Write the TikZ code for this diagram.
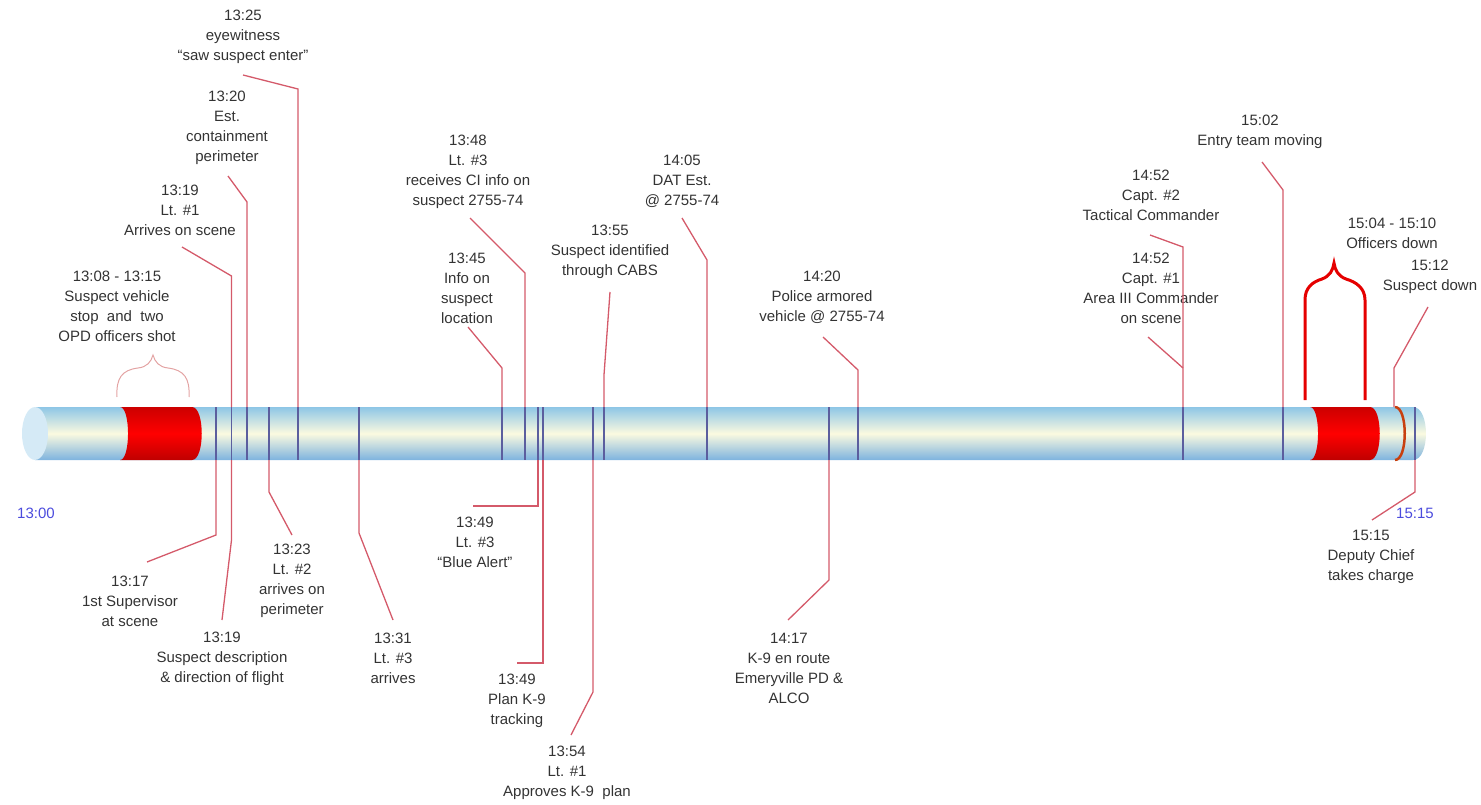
\documentclass[tikz,border=0pt]{standalone}
\usepackage{fontspec}
\setmainfont{Liberation Sans}
\definecolor{cylTop}{HTML}{8EC6E6}
\definecolor{cylMid}{HTML}{FBFAE0}
\definecolor{cylBot}{HTML}{7DB3DF}
\definecolor{capcol}{HTML}{D5EAF6}
\definecolor{connred}{HTML}{D45A6A}
\definecolor{tickcol}{HTML}{5B5E9E}
\definecolor{txtgray}{HTML}{333333}
\definecolor{axblue}{HTML}{4B4BDD}
\definecolor{bracelight}{HTML}{E3A3A3}
\definecolor{ringcol}{HTML}{C8400F}
\tikzset{
  lbl/.style={align=center, inner sep=0pt, text=txtgray, font=\fontsize{15}{20}\selectfont},
  axlbl/.style={inner sep=0pt, text=axblue, font=\fontsize{15}{20}\selectfont},
  conn/.style={draw=connred, line width=1.3pt, line join=miter},
  tickln/.style={draw=tickcol, line width=1.3pt},
  redseg/.style={top color=red!80!black, bottom color=red!75!black, middle color=red, draw=none},
}
\begin{document}
\begin{tikzpicture}[x=1pt,y=-1pt]
\useasboundingbox (0,0) rectangle (1481,805);

% ---- cylinder ----
\path[top color=cylTop, bottom color=cylBot, middle color=cylMid]
  (35,407) -- (1413,407) .. controls (1430.3,407) and (1430.3,460) .. (1413,460) -- (35,460) -- cycle;
\fill[capcol] (35,433.5) ellipse [x radius=13, y radius=26.5];
% red segments
\path[redseg] (120,407) -- (192,407) .. controls (205,407) and (205,460) .. (192,460)
  -- (120,460) .. controls (130.7,460) and (130.7,407) .. (120,407) -- cycle;
\path[redseg] (1310,407) -- (1370,407) .. controls (1383,407) and (1383,460) .. (1370,460)
  -- (1310,460) .. controls (1320.7,460) and (1320.7,407) .. (1310,407) -- cycle;
\draw[ringcol, line width=2.5pt] (1395,407) .. controls (1408,407) and (1408,460) .. (1395,460);

% ---- tick positions on the cylinder ----
\foreach \n/\x in {t1317/216, t1319/231.5, t1320/247, t1323/269, t1325/298, t1331/359,
  t1345/502, t1348/525, t1349a/538, t1349b/543, t1354/593, t1355/604, t1405/707,
  t1417/829, t1420/858, t1452/1183, t1502/1283, t1515/1415}{
  \coordinate (\n u) at (\x,407);
  \coordinate (\n d) at (\x,460);
  \draw[tickln] (\n u) -- (\n d);
}
\coordinate (t1512u) at (1394,407);

% ---- labels ----
\node[lbl] (n1308) at (117,306) {13:08 - 13:15\\Suspect vehicle\\stop\ \ and\ \ two\\OPD officers shot};
\node[lbl] (n1319a) at (180,210) {13:19\\Lt. \#1\\Arrives on scene};
\node[lbl] (n1320) at (227,128) {13:20\\Est.\\containment\\perimeter};
\node[lbl] (n1325) at (243,37) {13:25\\eyewitness\\“saw suspect enter”};
\node[lbl] (n1317) at (130,601) {13:17\\1st Supervisor\\at scene};
\node[lbl] (n1319b) at (222,659) {13:19\\Suspect description\\\& direction of flight};
\node[lbl] (n1323) at (292,581) {13:23\\Lt. \#2\\arrives on\\perimeter};
\node[lbl] (n1331) at (393,658) {13:31\\Lt. \#3\\arrives};
\node[lbl] (n1345) at (467,288) {13:45\\Info on\\suspect\\location};
\node[lbl] (n1348) at (468,172) {13:48\\Lt. \#3\\receives CI info on\\suspect 2755-74};
\node[lbl] (n1349a) at (475,542) {13:49\\Lt. \#3\\“Blue Alert”};
\node[lbl] (n1349b) at (517,701) {13:49\\Plan K-9\\tracking};
\node[lbl] (n1354) at (567,773) {13:54\\Lt. \#1\\Approves K-9\ \ plan};
\node[lbl] (n1355) at (610,252) {13:55\\Suspect identified\\through CABS};
\node[lbl] (n1405) at (682,181) {14:05\\DAT Est.\\@ 2755-74};
\node[lbl] (n1420) at (822,297) {14:20\\Police armored\\vehicle @ 2755-74};
\node[lbl] (n1417) at (789,668) {14:17\\K-9 en route\\Emeryville PD \&\\ALCO};
\node[lbl] (n1452a) at (1151,195) {14:52\\Capt. \#2\\Tactical Commander};
\node[lbl] (n1452b) at (1151,288) {14:52\\Capt. \#1\\Area III Commander\\on scene};
\node[lbl] (n1502) at (1260,132) {15:02\\Entry team moving};
\node[lbl] (n1504) at (1392,233) {15:04 - 15:10\\Officers down};
\node[lbl] (n1512) at (1430,277) {15:12\\Suspect down};
\node[lbl] (n1515) at (1371,557) {15:15\\Deputy Chief\\takes charge};
\node[axlbl] (ax1300) at (36,513) {13:00};
\node[axlbl] (ax1515) at (1415,513) {15:15};

% ---- connector free ends ----
\coordinate (e1319a) at (182,247);
\coordinate (e1320) at (228,176);
\coordinate (e1325) at (243,75);
\coordinate (e1317) at (147,562);
\coordinate (e1319b) at (222,620);
\coordinate (e1323) at (292,535);
\coordinate (e1331) at (393,620);
\coordinate (e1345) at (468,327);
\coordinate (e1348) at (470,218);
\coordinate (e1349a) at (473,506);
\coordinate (e1349b) at (517,663);
\coordinate (e1354) at (571,735);
\coordinate (e1355) at (610,292);
\coordinate (e1405) at (682,218);
\coordinate (e1420) at (823,337);
\coordinate (e1417) at (788,620);
\coordinate (e1452a) at (1150,235);
\coordinate (e1452b) at (1148,337);
\coordinate (e1502) at (1262,162);
\coordinate (e1512) at (1428,307);
\coordinate (e1515) at (1372,520);

% ---- connectors ----
\draw[conn] (e1319a) -- (231.5,276) -- (t1319u);
\draw[conn] (e1320) -- (247,202) -- (t1320u);
\draw[conn] (e1325) -- (298,89) -- (t1325u);
\draw[conn] (t1317d) -- (216,535) -- (e1317);
\draw[conn] (t1319d) -- (231.5,540) -- (e1319b);
\draw[conn] (t1323d) -- (269,492) -- (e1323);
\draw[conn] (t1331d) -- (359,533) -- (e1331);
\draw[conn] (e1345) -- (502,368) -- (t1345u);
\draw[conn] (e1348) -- (525,273) -- (t1348u);
\draw[conn] (t1349ad) -- (538,506) -- (e1349a);
\draw[conn] (t1349bd) -- (543,663) -- (e1349b);
\draw[conn] (t1354d) -- (593,692) -- (e1354);
\draw[conn] (e1355) -- (604,375) -- (t1355u);
\draw[conn] (e1405) -- (707,260) -- (t1405u);
\draw[conn] (e1420) -- (858,370) -- (t1420u);
\draw[conn] (t1417d) -- (829,580) -- (e1417);
\draw[conn] (e1452a) -- (1183,247) -- (t1452u);
\draw[conn] (e1452b) -- (1183,368);
\draw[conn] (e1502) -- (1283,190) -- (t1502u);
\draw[conn] (e1512) -- (1394,368) -- (t1512u);
\draw[conn] (t1515d) -- (1415,492) -- (e1515);

% ---- braces ----
\draw[bracelight, line width=1pt]
  (117,397) .. controls (116,378) and (122,370) .. (138,368)
  .. controls (147,367) and (151,362) .. (153,355)
  .. controls (155,362) and (159,367) .. (168,368)
  .. controls (184,370) and (190,378) .. (189,397);
\draw[red!90!black, line width=3pt]
  (1305,400) -- (1305,300) .. controls (1305,288) and (1312,282) .. (1322,279)
  .. controls (1330,276) and (1333,270) .. (1334,263)
  .. controls (1335,270) and (1338,276) .. (1346,279)
  .. controls (1356,282) and (1365,288) .. (1365,300) -- (1365,400);
\end{tikzpicture}
\end{document}
